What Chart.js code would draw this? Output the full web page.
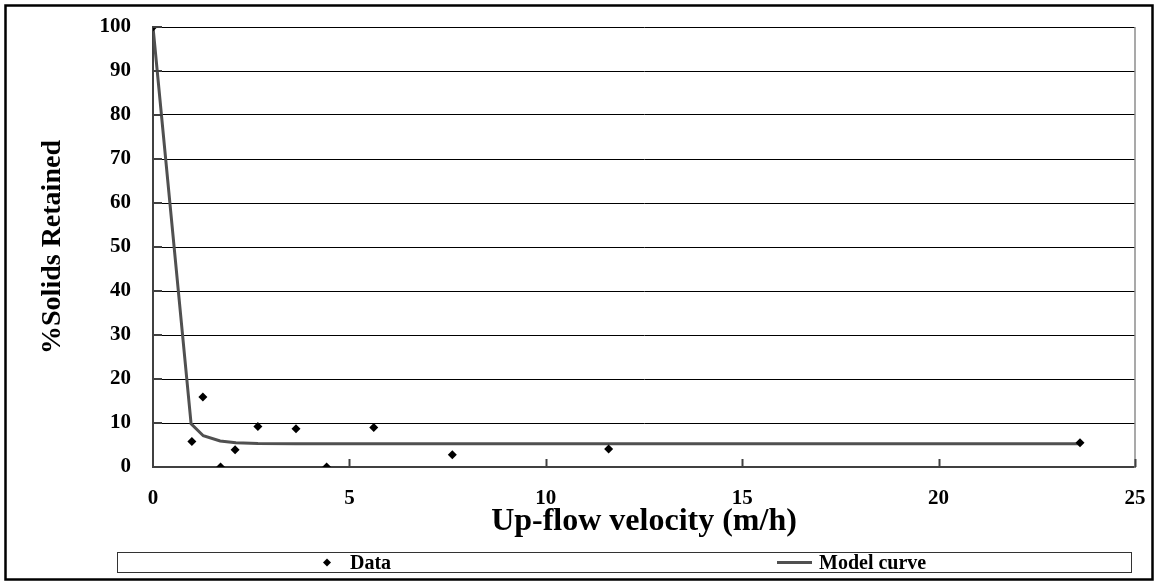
<!DOCTYPE html>
<html>
<head>
<meta charset="utf-8">
<script src="https://cdn.jsdelivr.net/npm/chart.js@4"></script>
<style>
  html, body { margin: 0; padding: 0; background: #fff; }
  #wrap { position: relative; width: 1158px; height: 583px; }
</style>
</head>
<body>
<div id="wrap"><canvas id="c"></canvas></div>
<script>
// ---- data ----
const dataVelocity = [0, 0.99, 1.27, 1.72, 2.09, 2.67, 3.64, 4.42, 5.62, 7.62, 11.6, 23.6];
const dataRetained = [100, 5.8, 15.9, 0, 3.9, 9.2, 8.7, 0, 9.0, 2.8, 4.1, 5.5];
const modelVelocity = [0, 0.97, 1.28, 1.71, 2.11, 2.67, 3.64, 4.42, 5.62, 7.62, 11.6, 23.6];
const modelRetained = [100, 9.8, 7.1, 5.9, 5.5, 5.35, 5.3, 5.3, 5.3, 5.3, 5.3, 5.3];
const xTicks = [0, 5, 10, 15, 20, 25];
const yTicks = [0, 10, 20, 30, 40, 50, 60, 70, 80, 90, 100];
const seriesLabels = ['Data', 'Model curve'];
const xTitle = 'Up-flow velocity (m/h)';
const yTitle = '%Solids Retained';

const FONT = '"Liberation Serif", "Times New Roman", serif';

const toXY = (xs, ys) => xs.map((x, i) => ({ x: x, y: ys[i] }));

// inward tick marks, outer frame, custom legend box
const decorPlugin = {
  id: 'decor',
  afterDraw(chart) {
    const ctx = chart.ctx;
    const xs = chart.scales.x, ys = chart.scales.y;
    const area = chart.chartArea;
    ctx.save();
    // right plot border
    ctx.strokeStyle = '#8c8c8c';
    ctx.lineWidth = 1.5;
    ctx.beginPath();
    ctx.moveTo(area.right, area.top);
    ctx.lineTo(area.right, area.bottom + 1);
    ctx.stroke();
    // inward ticks
    ctx.strokeStyle = '#404040';
    ctx.lineWidth = 2;
    xTicks.forEach(v => {
      if (v === 0) return;
      const px = Math.round(xs.getPixelForValue(v)) + 0.5;
      ctx.beginPath();
      ctx.moveTo(px, area.bottom);
      ctx.lineTo(px, area.bottom - 8);
      ctx.stroke();
    });
    yTicks.forEach(v => {
      if (v === 0) return;
      const py = ys.getPixelForValue(v);
      ctx.beginPath();
      ctx.moveTo(area.left, py);
      ctx.lineTo(area.left + 9, py);
      ctx.stroke();
    });
    // outer frame
    ctx.strokeStyle = '#000';
    ctx.lineWidth = 2.5;
    ctx.strokeRect(5.5, 5.5, 1147, 574);
    // legend box
    const lb = { x: 117.5, y: 552.5, w: 1014, h: 20 };
    ctx.strokeStyle = '#333';
    ctx.lineWidth = 1;
    ctx.strokeRect(lb.x, lb.y, lb.w, lb.h);
    const cy = lb.y + lb.h / 2;
    ctx.font = 'bold 20px ' + FONT;
    ctx.fillStyle = '#000';
    ctx.textBaseline = 'middle';
    ctx.textAlign = 'left';
    const d0 = chart.data.datasets[0];
    const d1 = chart.data.datasets[1];
    // data marker (diamond)
    const mx = 327, r = 4;
    ctx.fillStyle = d0.pointBackgroundColor;
    ctx.beginPath();
    ctx.moveTo(mx, cy - r); ctx.lineTo(mx + r, cy); ctx.lineTo(mx, cy + r); ctx.lineTo(mx - r, cy);
    ctx.closePath();
    ctx.fill();
    ctx.fillStyle = '#000';
    ctx.fillText(d0.label, 350, cy + 1);
    // model line
    ctx.strokeStyle = d1.borderColor;
    ctx.lineWidth = d1.borderWidth;
    ctx.beginPath();
    ctx.moveTo(777, cy); ctx.lineTo(812, cy);
    ctx.stroke();
    ctx.fillText(d1.label, 819, cy + 1);
    ctx.restore();
  }
};

new Chart(document.getElementById('c'), {
  type: 'scatter',
  data: {
    datasets: [
      {
        label: seriesLabels[0],
        data: toXY(dataVelocity, dataRetained),
        showLine: false,
        pointStyle: 'rectRot',
        pointRadius: 4.5,
        pointBackgroundColor: '#000',
        pointBorderColor: '#000',
        pointBorderWidth: 0,
        order: 0
      },
      {
        label: seriesLabels[1],
        data: toXY(modelVelocity, modelRetained),
        showLine: true,
        borderColor: '#505050',
        borderWidth: 3,
        pointRadius: 0,
        tension: 0,
        fill: false,
        order: 1
      }
    ]
  },
  options: {
    responsive: true,
    maintainAspectRatio: false,
    animation: false,
    devicePixelRatio: 1,
    layout: { padding: { left: 0, top: 27, right: 23, bottom: 0 } },
    plugins: {
      legend: { display: false },
      tooltip: { enabled: false },
      title: { display: false }
    },
    scales: {
      x: {
        type: 'linear',
        min: 0, max: 25,
        afterBuildTicks(scale) { scale.ticks = xTicks.map(v => ({ value: v })); },
        afterFit(scale) {
          scale.height = 116;
          scale.paddingLeft = 0; scale.paddingRight = 0;
          scale.paddingTop = 0; scale.paddingBottom = 0;
        },
        ticks: {
          color: '#000',
          padding: 19,
          font: { family: FONT, size: 21, weight: 'bold' }
        },
        grid: { drawOnChartArea: false, drawTicks: false },
        border: { display: true, color: '#404040', width: 2 },
        title: {
          display: true,
          text: xTitle,
          color: '#000',
          font: { family: FONT, size: 32, weight: 'bold' },
          padding: { top: 0, bottom: 42 }
        }
      },
      y: {
        type: 'linear',
        min: 0, max: 100,
        afterBuildTicks(scale) { scale.ticks = yTicks.map(v => ({ value: v })); },
        afterFit(scale) {
          scale.width = 153;
          scale.paddingLeft = 0; scale.paddingRight = 0;
          scale.paddingTop = 0; scale.paddingBottom = 0;
        },
        ticks: {
          color: '#000',
          padding: 22,
          font: { family: FONT, size: 21, weight: 'bold' }
        },
        grid: { color: '#000', lineWidth: 1, drawTicks: false },
        border: { display: true, color: '#404040', width: 2 },
        title: {
          display: true,
          text: yTitle,
          color: '#000',
          font: { family: FONT, size: 28, weight: 'bold' },
          padding: { top: 36, bottom: 0 }
        }
      }
    }
  },
  plugins: [decorPlugin]
});
</script>
</body>
</html>
